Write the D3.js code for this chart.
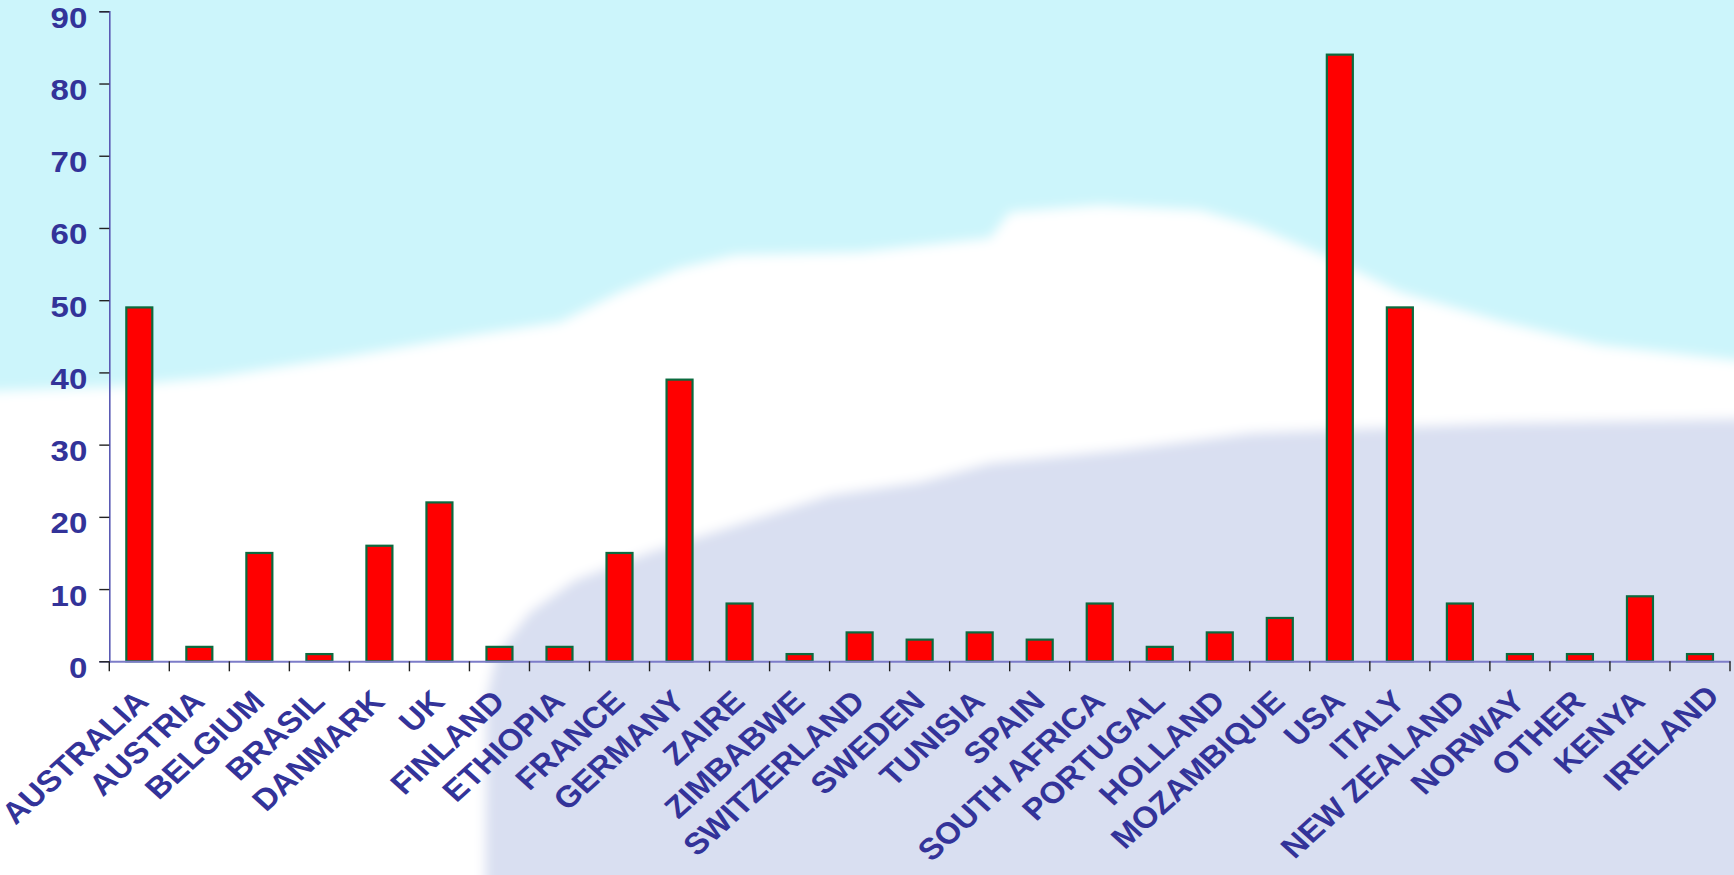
<!DOCTYPE html>
<html>
<head>
<meta charset="utf-8">
<script src="https://cdn.jsdelivr.net/npm/d3@7"></script>
<style>
  html, body { margin: 0; padding: 0; background: #ffffff; }
  svg { display: block; }
  text { font-family: "Liberation Sans", Arial, sans-serif; font-weight: bold; }
</style>
</head>
<body>
<svg id="chart" width="1734" height="875"></svg>
<script>
const categories = ["AUSTRALIA","AUSTRIA","BELGIUM","BRASIL","DANMARK","UK","FINLAND","ETHIOPIA","FRANCE","GERMANY","ZAIRE","ZIMBABWE","SWITZERLAND","SWEDEN","TUNISIA","SPAIN","SOUTH AFRICA","PORTUGAL","HOLLAND","MOZAMBIQUE","USA","ITALY","NEW ZEALAND","NORWAY","OTHER","KENYA","IRELAND"];
const values = [49,2,15,1,16,22,2,2,15,39,8,1,4,3,4,3,8,2,4,6,84,49,8,1,1,9,1];
const yTicks = [0,10,20,30,40,50,60,70,80,90];

(function () {
const W = 1734, H = 875;
const pLeft = 109.3, pRight = 1730, pTop = 11.3, pBottom = 661.3;
const stretch = 1.1; // text in the source is slightly widened horizontally

const svg = d3.select("#chart");

// ---- background (decorative landscape) ----
const defs = svg.append("defs");
defs.append("filter").attr("id","soft").attr("x","-10%").attr("y","-10%").attr("width","120%").attr("height","120%")
  .append("feGaussianBlur").attr("stdDeviation", 6);

svg.append("rect").attr("x",0).attr("y",0).attr("width",W).attr("height",H).attr("fill","#ccf5fb");

const snow = [[-40,392],[107,387],[214,377],[344,357],[473,335],[560,322],[620,292],[680,268],[735,255],[860,252],[990,238],[1010,212],[1100,205],[1200,210],[1255,226],[1330,258],[1400,292],[1504,322],[1600,345],[1780,365],[1780,920],[-40,920]];
const lav = [[485,920],[486,700],[496,655],[530,612],[575,580],[650,552],[730,527],[830,495],[920,482],[990,463],[1120,450],[1251,433],[1504,423],[1780,418],[1780,920]];
const line = d3.line();
const bg = svg.append("g").attr("filter","url(#soft)");
bg.append("path").attr("d", line(snow) + "Z").attr("fill","#ffffff");
bg.append("path").attr("d", line(lav) + "Z").attr("fill","#d9dff1");

// ---- scales ----
const x = d3.scaleBand().domain(categories).range([pLeft, pRight]).paddingInner(0.567).paddingOuter(0.2835);
const y = d3.scaleLinear().domain([0, 90]).range([pBottom, pTop]);

// ---- bars ----
svg.append("g").selectAll("rect").data(categories).join("rect")
  .attr("x", d => x(d))
  .attr("y", (d, i) => y(values[i]))
  .attr("width", x.bandwidth())
  .attr("height", (d, i) => y(0) - y(values[i]))
  .attr("fill", "#ff0000")
  .attr("stroke", "#0b6b3f")
  .attr("stroke-width", 2.2);

// ---- y axis ----
const yAxis = svg.append("g").attr("transform", `translate(${pLeft},0)`)
  .call(d3.axisLeft(y).tickValues(yTicks).tickSize(10).tickPadding(13).tickFormat(d3.format("d")));
yAxis.select(".domain").attr("stroke", "#5a5ab4").attr("stroke-width", 1.6);
yAxis.selectAll(".tick line").attr("stroke", "#222222").attr("stroke-width", 1.4);
yAxis.selectAll(".tick text")
  .attr("fill", "#333399").attr("font-size", 30).attr("font-weight", "bold")
  .attr("font-family", "'Liberation Sans', Arial, sans-serif")
  .attr("x", 0).attr("y", 16).attr("dy", null)
  .attr("transform", `translate(-22,0) scale(${stretch},1)`);

// ---- x axis line and boundary ticks ----
const xAxis = svg.append("g").attr("transform", `translate(0,${pBottom})`)
  .call(d3.axisBottom(x).tickSize(0).tickFormat(""));
xAxis.select(".domain").attr("stroke", "#7c7cc8").attr("stroke-width", 2);
const bounds = d3.range(categories.length + 1).map(i => x.range()[0] + i * x.step());
svg.append("g").selectAll("line").data(bounds).join("line")
  .attr("x1", d => d).attr("x2", d => d)
  .attr("y1", pBottom).attr("y2", pBottom + 10)
  .attr("stroke", "#222222").attr("stroke-width", 1.4);

// ---- category labels ----
const last = categories.length - 1;
svg.append("g").selectAll("text").data(categories).join("text")
  .attr("transform", (d, i) => {
    const dx = i === last ? 21 : (i === 0 ? 11 : 7), dy = i === last ? 37 : 42;
    return `translate(${x(d) + x.bandwidth() / 2 + dx},${pBottom + dy}) scale(${stretch},1) rotate(-45)`;
  })
  .attr("text-anchor", "end")
  .attr("fill", "#333399")
  .attr("font-size", 30)
  .text(d => d);
})();
</script>
</body>
</html>
